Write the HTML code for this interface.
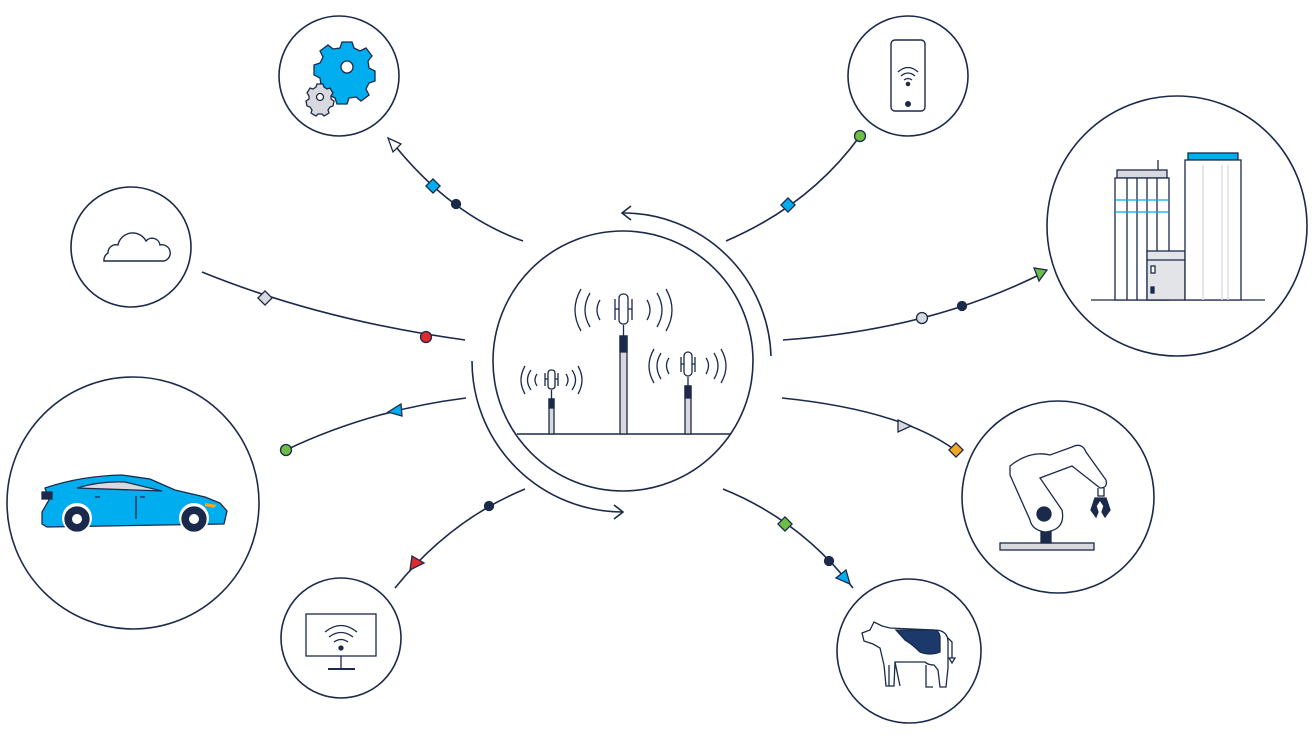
<!DOCTYPE html>
<html><head><meta charset="utf-8"><style>
html,body{margin:0;padding:0;background:#fff;width:1316px;height:740px;overflow:hidden}
</style></head><body>
<svg width="1316" height="740" viewBox="0 0 1316 740" xmlns="http://www.w3.org/2000/svg" fill="none" stroke="#1b2a4a" stroke-width="1.6">
<!-- circles -->
<circle cx="623" cy="361" r="130"/>
<circle cx="339" cy="76" r="60"/>
<circle cx="908" cy="76" r="60"/>
<circle cx="131" cy="247" r="60"/>
<circle cx="1177" cy="226" r="130"/>
<circle cx="133" cy="503" r="126"/>
<circle cx="1058" cy="497" r="96"/>
<circle cx="341" cy="638" r="60"/>
<circle cx="909" cy="651" r="72"/>

<!-- orbit arcs -->
<path d="M623 213 A148 148 0 0 1 771 356"/>
<path d="M631 206 L622 213 L631 220"/>
<path d="M472 361 A151 151 0 0 0 623 512"/>
<path d="M614 505 L623 512 L614 519"/>

<!-- connectors -->
<path d="M523 241 Q450 215 392 142"/>
<path d="M726 241 Q810 205 860 136"/>
<path d="M202 272 Q320 320 465 340"/>
<path d="M783 340 Q930 330 1045 272"/>
<path d="M466 398 Q370 410 286 450"/>
<path d="M782 398 Q900 410 955 450"/>
<path d="M525 489 Q450 520 395 588"/>
<path d="M723 489 Q800 520 853 588"/>

<!-- markers -->
<g stroke-width="1.3">
<path d="M388 138 L401 144 L393 152 Z" fill="#fff"/>
<rect x="428" y="181" width="10" height="10" fill="#00aeef" transform="rotate(45 433 186)"/>
<circle cx="456" cy="204" r="4.5" fill="#1b2a4a"/>
<rect x="783" y="200" width="10" height="10" fill="#00aeef" transform="rotate(45 788 205)"/>
<circle cx="860" cy="136" r="5.5" fill="#6cbf44"/>
<rect x="260" y="293" width="10" height="10" fill="#d8d9de" transform="rotate(45 265 298)"/>
<circle cx="426" cy="337" r="5.5" fill="#e02a2a"/>
<circle cx="922" cy="318" r="5.5" fill="#d8d9de"/>
<circle cx="962" cy="306" r="4.5" fill="#1b2a4a"/>
<path d="M1047 270 L1034 268 L1039 281 Z" fill="#6cbf44"/>
<path d="M388 412 L401 404 L402 416 Z" fill="#00aeef"/>
<circle cx="286" cy="450" r="5.5" fill="#6cbf44"/>
<path d="M911 426 L898 420 L898 432 Z" fill="#d8d9de"/>
<rect x="951" y="445" width="10" height="10" fill="#f5a623" transform="rotate(45 956 450)"/>
<circle cx="489" cy="506" r="4.5" fill="#1b2a4a"/>
<path d="M410 570 L412 556 L424 563 Z" fill="#e02a2a"/>
<rect x="780" y="519" width="10" height="10" fill="#6cbf44" transform="rotate(45 785 524)"/>
<circle cx="829" cy="561" r="4.5" fill="#1b2a4a"/>
<path d="M850 584 L836 578 L846 570 Z" fill="#00aeef"/>
</g>

<!-- center antennas -->
<line x1="517" y1="434" x2="731" y2="434"/>
<g stroke-width="1.3">
<rect x="620" y="336" width="7" height="98" fill="#d8d9de"/>
<rect x="620" y="336" width="7" height="16" fill="#1b2a4a"/>
<line x1="623.5" y1="325" x2="623.5" y2="336"/>
<rect x="619" y="294" width="9" height="30" rx="4" fill="#fff"/>
<path d="M615 299 V320 M615 309 H619 M632 299 V320 M632 309 H628"/>
<path d="M600 300 q-6 10 0 20 M590 293 q-10 17 0 34 M581 289 q-12 21 0 42 M647 300 q6 10 0 20 M657 293 q10 17 0 34 M666 289 q12 21 0 42"/>
<rect x="685" y="386" width="6" height="48" fill="#d8d9de"/>
<rect x="685" y="386" width="6" height="12" fill="#1b2a4a"/>
<line x1="688" y1="377" x2="688" y2="386"/>
<rect x="684" y="352" width="8" height="24" rx="4" fill="#fff"/>
<path d="M681 357 V372 M681 364 H684 M695 357 V372 M695 364 H692"/>
<path d="M669 358 q-5 7 0 16 M661 353 q-8 13 0 26 M654 349 q-10 17 0 34 M706 358 q5 7 0 16 M714 353 q8 13 0 26 M721 349 q10 17 0 34"/>
<rect x="549" y="399" width="5" height="35" fill="#d8d9de"/>
<rect x="549" y="399" width="5" height="9" fill="#1b2a4a"/>
<line x1="551.5" y1="390" x2="551.5" y2="399"/>
<rect x="548" y="370" width="7" height="19" rx="3" fill="#fff"/>
<path d="M545 373 V386 M545 379 H548 M558 373 V386 M558 379 H555"/>
<path d="M537 374 q-4 6 0 12 M531 370 q-7 10 0 20 M525 366 q-8 14 0 28 M566 374 q4 6 0 12 M572 370 q7 10 0 20 M578 366 q8 14 0 28"/>
</g>

<!-- gears -->
<g stroke-width="1.3">
<path d="M342 42 h10 l2 6 l6 3 l6-3 l6 8 l-4 5 l1 7 l6 3 v10 l-6 2 l-3 6 l3 6 l-8 6 l-5-4 l-7 1 l-2 6 h-10 l-2-6 l-6-3 l-6 3 l-6-8 l4-5 l-1-7 l-6-3 v-10 l6-2 l3-6 l-3-6 l8-6 l5 4 l7-1 z" fill="#00aeef"/>
<circle cx="347" cy="67" r="6" fill="#fff"/>
<path d="M317 84 h6 l1 3 l3 2 l3-1 l3 5 l-2 3 v3 l3 2 l-1 5 l-3 1 l-2 3 l1 3 l-5 3 l-2-2 h-4 l-2 2 l-5-3 l1-3 l-2-3 l-3-1 l-1-5 l3-2 v-3 l-2-3 l3-5 l3 1 l3-2 z" fill="#d8d9de"/>
<circle cx="320" cy="97" r="3.5" fill="#fff"/>
</g>

<!-- phone -->
<rect x="891" y="40" width="34" height="71" rx="4" stroke-width="1.4"/>
<circle cx="908" cy="104" r="2.2" fill="#1b2a4a"/>
<path d="M898 72 q10-9 20 0 M901 76 q7-6 14 0 M904 80 q4-3 8 0" stroke-width="1.3"/>
<circle cx="908" cy="84" r="1.5" fill="#1b2a4a"/>

<!-- cloud -->
<path d="M104 261 h60 a8 8 0 0 0 -4 -16 a8 8 0 0 0 -14 -4 a15 15 0 0 0 -28 4 a8 8 0 0 0 -10 8 a8 8 0 0 0 -4 8 z" stroke-width="1.4"/>

<!-- buildings -->
<g stroke-width="1.3">
<line x1="1091" y1="300" x2="1265" y2="300"/>
<rect x="1117" y="170" width="50" height="8" fill="#d8d9de"/>
<line x1="1158" y1="170" x2="1158" y2="160"/>
<rect x="1115" y="178" width="54" height="122" fill="#fff"/>
<path d="M1127 178 V300 M1137 178 V300 M1147 178 V300 M1157 178 V300"/>
<path d="M1115 200 H1169 M1115 212 H1169" stroke="#00aeef"/>
<rect x="1147" y="251" width="38" height="49" fill="#e3e4e8"/>
<line x1="1147" y1="260" x2="1185" y2="260"/>
<rect x="1151" y="266" width="4" height="7" fill="#fff"/>
<rect x="1151" y="287" width="3" height="6" fill="#1b2a4a"/>
<rect x="1188" y="153" width="50" height="7" fill="#00aeef"/>
<rect x="1185" y="160" width="56" height="140" fill="#fff"/>
<path d="M1203 165 V300 M1222 165 V300 M1228 165 V300" stroke="#d8d9de"/>
</g>

<!-- car -->
<g stroke-width="1.3">
<path d="M45 488 L49 500 L42 512 L42 524 L47 527 L224 524 L227 511 L220 503 L205 497 L175 490 L150 479 L122 475 Q80 476 45 488 Z" fill="#00aeef"/>
<path d="M77 488 Q100 481 125 482 L162 491 Z" fill="#d8d9de"/>
<rect x="42" y="492" width="10" height="7" fill="#1b2a4a"/>
<path d="M205 503 L217 505 L214 508 L205 506 Z" fill="#f5a623" stroke="none"/>
<path d="M136 496 V519 M95 497 H100 M140 497 H145"/>
<circle cx="77" cy="518" r="15" fill="#fff" stroke="none"/>
<circle cx="194" cy="518" r="15" fill="#fff" stroke="none"/>
<circle cx="77" cy="519" r="12" fill="#1b2a4a"/>
<circle cx="77" cy="519" r="5" fill="#fff" stroke="none"/>
<circle cx="194" cy="519" r="12" fill="#1b2a4a"/>
<circle cx="194" cy="519" r="5" fill="#fff" stroke="none"/>
</g>

<!-- robot -->
<g stroke-width="1.3">
<rect x="1000" y="543" width="94" height="7" fill="#d8d9de"/>
<rect x="1041" y="530" width="10" height="13" fill="#1b2a4a"/>
<path d="M1010 466 Q1030 450 1050 455 L1072 447 Q1082 442 1086 452 L1106 480 Q1108 488 1100 488 L1072 466 L1040 478 L1062 510 Q1066 530 1045 532 Q1032 530 1030 520 L1010 475 Z" fill="#fff"/>
<circle cx="1044" cy="514" r="7" fill="#1b2a4a"/>
<path d="M1098 488 L1098 496 L1104 496 L1104 488"/>
<path d="M1095 498 L1091 510 L1096 517 L1098 512 L1096 506 L1100 500 L1104 506 L1102 512 L1105 517 L1110 510 L1106 498 Z" fill="#1b2a4a"/>
</g>

<!-- tv -->
<g stroke-width="1.3">
<rect x="306" y="614" width="70" height="42"/>
<line x1="341" y1="656" x2="341" y2="669"/>
<line x1="328" y1="669" x2="355" y2="669" stroke-width="2"/>
<path d="M325 632 q16-13 32 0 M329 637 q12-9 24 0 M334 642 q7-5 14 0"/>
<circle cx="341" cy="648" r="2" fill="#1b2a4a"/>
</g>

<!-- cow -->
<g stroke-width="1.3">
<path d="M862 633 L870 630 L874 622 L882 626 L890 628 L934 630 Q948 630 948 642 L948 668 L946 687 L940 687 L938 670 L934 665 Q928 665 925 662 L895 662 L894 686 L886 686 L884 665 L880 648 L873 644 L864 641 Z" fill="#fff"/>
<path d="M896 630 L934 630 Q940 631 940 638 L940 652 Q930 656 920 652 Q912 644 905 640 Z" fill="#1b3a6b"/>
<path d="M948 638 L952 642 L952 658 M949 658 h6 l-3 5 z"/>
<path d="M926 665 V687 H933 M895 662 L900 686 M889 665 V686"/>
</g>
</svg>
</body></html>
